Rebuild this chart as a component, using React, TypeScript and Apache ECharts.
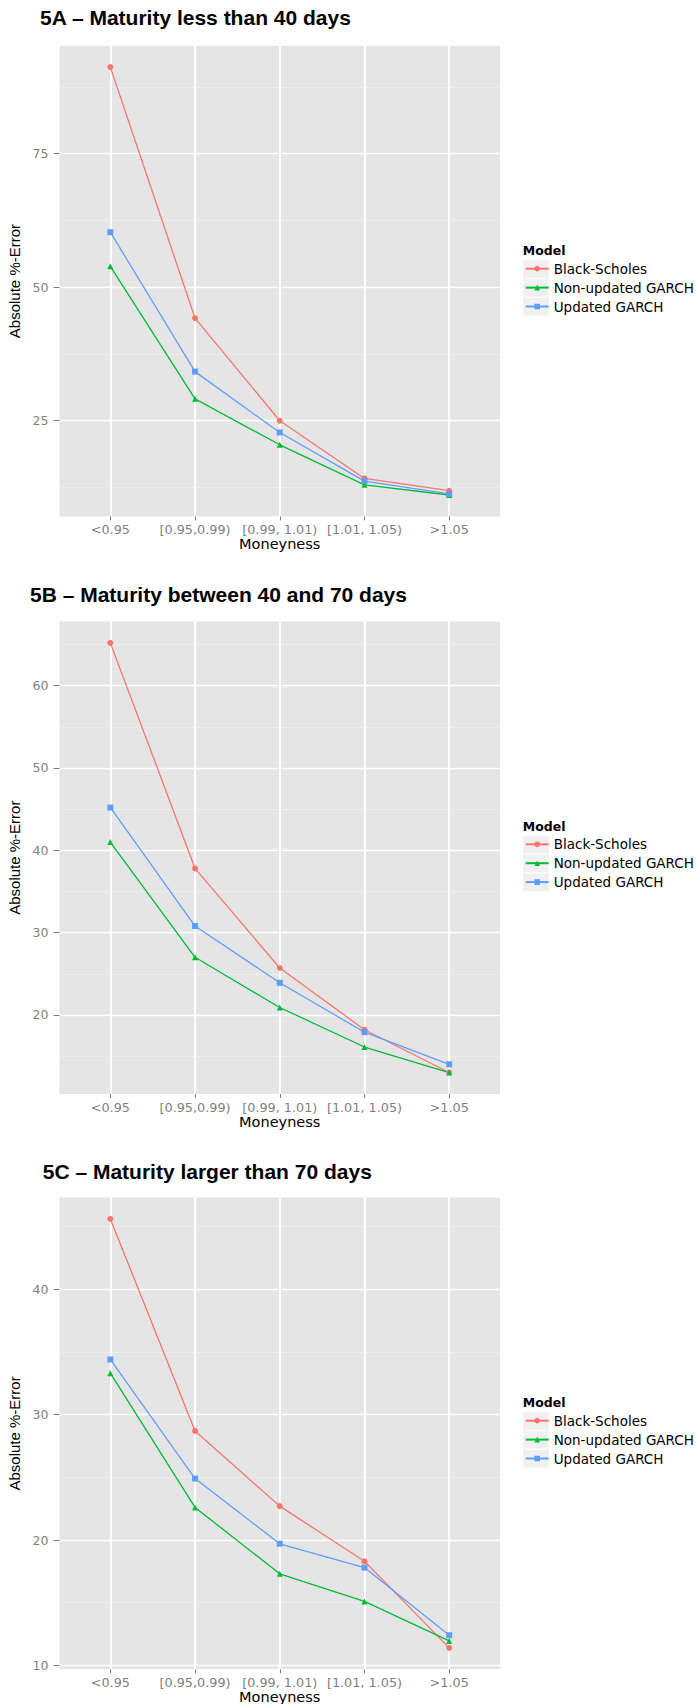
import { useEffect, useRef } from 'react';
import * as echarts from 'echarts';

// Moneyness buckets on the x axis
const moneyness = ['<0.95', '[0.95,0.99)', '[0.99, 1.01)', '[1.01, 1.05)', '>1.05'];

// Pricing models
const models = ['Black-Scholes', 'Non-updated GARCH', 'Updated GARCH'];
const modelColors = ['#F8766D', '#00BA38', '#619CFF'];
const modelSymbols = ['circle', 'triangle', 'rect'];

// Panel titles
const panelTitles = [
  '5A \u2013 Maturity less than 40 days',
  '5B \u2013 Maturity between 40 and 70 days',
  '5C \u2013 Maturity larger than 70 days',
];

// 5A: maturity < 40 days (absolute % error)
const blackScholesA = [91.2, 44.2, 25.0, 14.2, 11.9];
const nonUpdatedA = [53.9, 29.1, 20.5, 13.0, 11.1];
const updatedA = [60.3, 34.2, 22.8, 13.7, 11.3];

// 5B: maturity 40-70 days
const blackScholesB = [65.2, 37.8, 25.7, 18.2, 13.0];
const nonUpdatedB = [41.0, 27.0, 20.9, 16.1, 13.0];
const updatedB = [45.2, 30.8, 23.9, 17.9, 14.0];

// 5C: maturity > 70 days
const blackScholesC = [45.6, 28.7, 22.7, 18.3, 11.4];
const nonUpdatedC = [33.3, 22.6, 17.3, 15.1, 11.95];
const updatedC = [34.4, 24.9, 19.7, 17.8, 12.4];

// Y tick labels (major) and minor grid positions per panel
const majorTicksA = [25, 50, 75];
const minorTicksA = [12.5, 37.5, 62.5, 87.5];
const majorTicksB = [20, 30, 40, 50, 60];
const minorTicksB = [15, 25, 35, 45, 55, 65];
const majorTicksC = [10, 20, 30, 40];
const minorTicksC = [15, 25, 35, 45];

const xCategoryPositions = moneyness.map((_, i) => i + 1);

const panelData = [
  [blackScholesA, nonUpdatedA, updatedA],
  [blackScholesB, nonUpdatedB, updatedB],
  [blackScholesC, nonUpdatedC, updatedC],
];
const panelMajor = [majorTicksA, majorTicksB, majorTicksC];
const panelMinor = [minorTicksA, minorTicksB, minorTicksC];

// Layout of the three stacked panels
const gridLeft = 59.5;
const gridWidth = 440.5;
const gridTops = [45.7, 621.4, 1197.5];
const gridHeights = [470.7, 472.6, 471.8];
const titleLefts = [40, 30, 42.7];
const titleCenters = [17.9, 594.6, 1171];
const legendTops = [261.7, 837.3, 1413.7];
const legendLeft = 524.7;
const legendItemH = 14;
const legendGap = 4.9;

const GREY_TEXT = '#7F7F7F';
const PANEL_BG = '#E5E5E5';

function expandRange(values: number[]): [number, number] {
  const lo = Math.min(...values);
  const hi = Math.max(...values);
  const pad = (hi - lo) * 0.05;
  return [lo - pad, hi + pad];
}

function buildOption() {
  const grids: any[] = [];
  const xAxes: any[] = [];
  const yAxes: any[] = [];
  const series: any[] = [];
  const titles: any[] = [];
  const legends: any[] = [];
  const graphics: any[] = [];

  panelData.forEach((sets, p) => {
    const [yMin, yMax] = expandRange(sets.flat());
    grids.push({
      left: gridLeft,
      top: gridTops[p],
      width: gridWidth,
      height: gridHeights[p],
      show: true,
      backgroundColor: PANEL_BG,
      borderWidth: 0,
      containLabel: false,
      outerBoundsMode: 'none',
    });

    xAxes.push({
      type: 'value',
      gridIndex: p,
      min: 0.4,
      max: 5.6,
      axisLine: { show: false },
      axisTick: {
        show: true,
        length: 4,
        customValues: xCategoryPositions,
        lineStyle: { color: GREY_TEXT, width: 1 },
      },
      axisLabel: {
        customValues: xCategoryPositions,
        formatter: (v: number) => moneyness[Math.round(v) - 1] ?? '',
        color: GREY_TEXT,
        fontFamily: 'DejaVu Sans',
        fontSize: 12.8,
        margin: 6.5,
      },
      splitLine: { show: true, lineStyle: { color: '#FFFFFF', width: 2 } },
      name: 'Moneyness',
      nameLocation: 'middle',
      nameGap: 15,
      nameTextStyle: { color: '#000000', fontFamily: 'DejaVu Sans', fontSize: 14.5, lineHeight: 15 },
    });

    // main value axis
    yAxes.push({
      type: 'value',
      gridIndex: p,
      min: yMin,
      max: yMax,
      axisLine: { show: false },
      axisTick: {
        show: true,
        length: 6,
        customValues: panelMajor[p],
        lineStyle: { color: GREY_TEXT, width: 1 },
      },
      axisLabel: {
        customValues: panelMajor[p],
        color: GREY_TEXT,
        fontFamily: 'DejaVu Sans',
        fontSize: 12.5,
        margin: 11,
      },
      splitLine: { show: true, lineStyle: { color: '#FFFFFF', width: 1.3 } },
      name: 'Absolute %-Error',
      nameLocation: 'middle',
      nameRotate: 90,
      nameGap: 23,
      nameTextStyle: { color: '#000000', fontFamily: 'Liberation Sans', fontSize: 15 },
    });
    // minor grid lines
    yAxes.push({
      type: 'value',
      gridIndex: p,
      min: yMin,
      max: yMax,
      axisLine: { show: false },
      axisTick: { show: false, customValues: panelMinor[p] },
      axisLabel: { show: false },
      splitLine: { show: true, lineStyle: { color: '#F2F2F2', width: 0.6 } },
    });

    sets.forEach((vals, m) => {
      series.push({
        type: 'line',
        name: models[m],
        xAxisIndex: p,
        yAxisIndex: p * 2,
        data: vals.map((v, k) => [xCategoryPositions[k], v]),
        symbol: modelSymbols[m],
        symbolSize: 6,
        showSymbol: true,
        color: modelColors[m],
        itemStyle: { color: modelColors[m] },
        lineStyle: { color: modelColors[m], width: 1.3 },
        z: 3,
      });
    });

    titles.push({
      text: panelTitles[p],
      left: titleLefts[p],
      top: titleCenters[p] - 10.5,
      padding: 0,
      textStyle: {
        fontFamily: 'Liberation Sans',
        fontWeight: 'bold',
        fontSize: 21,
        lineHeight: 21,
        color: '#000000',
      },
    });
    titles.push({
      text: 'Model',
      left: 522.7,
      top: legendTops[p] - 17.3,
      padding: 0,
      textStyle: {
        fontFamily: 'DejaVu Sans',
        fontWeight: 'bold',
        fontSize: 12.5,
        lineHeight: 13,
        color: '#000000',
      },
    });

    legends.push({
      data: models,
      orient: 'vertical',
      left: legendLeft,
      top: legendTops[p],
      padding: 0,
      itemWidth: 23,
      itemHeight: 7,
      itemGap: legendGap,
      selectedMode: false,
      textStyle: {
        fontFamily: 'DejaVu Sans',
        fontSize: 13.5,
        lineHeight: legendItemH,
        color: '#000000',
      },
    });

    models.forEach((_, m) => {
      const center = legendTops[p] + legendItemH / 2 + m * (legendItemH + legendGap);
      graphics.push({
        type: 'rect',
        left: 522.7,
        top: center - 9.15,
        z: 1,
        shape: { width: 26, height: 18.3 },
        style: { fill: '#F0F0F0', stroke: '#FFFFFF', lineWidth: 0.5 },
      });
    });
  });

  return {
    animation: false,
    backgroundColor: '#FFFFFF',
    title: titles,
    grid: grids,
    xAxis: xAxes,
    yAxis: yAxes,
    legend: legends,
    graphic: graphics,
    series,
  };
}

export default function App() {
  const ref = useRef<HTMLDivElement>(null);
  useEffect(() => {
    if (!ref.current) return;
    const chart = echarts.init(ref.current, null, { renderer: 'svg' });
    chart.setOption(buildOption() as any);
    return () => chart.dispose();
  }, []);
  return (
    <div
      ref={ref}
      style={{ position: 'absolute', left: 0, top: 0, width: 698, height: 1704 }}
    />
  );
}
